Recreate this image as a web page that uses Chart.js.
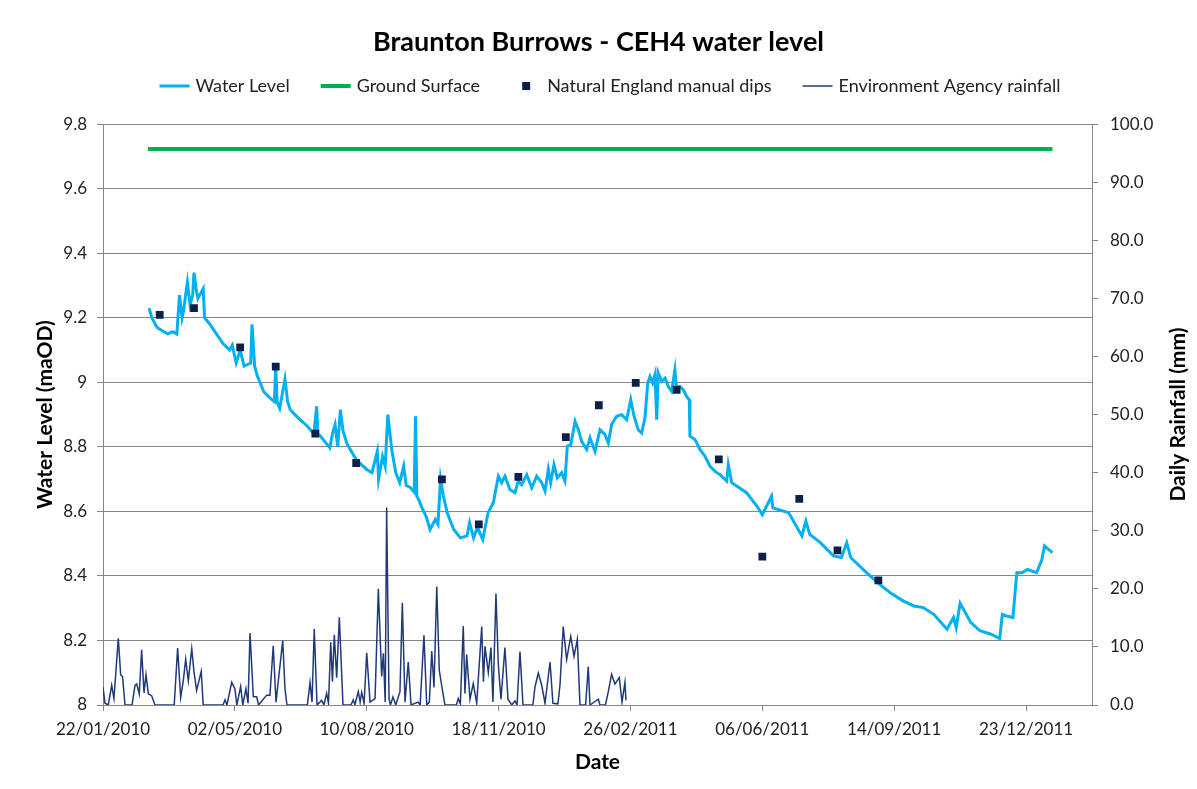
<!DOCTYPE html>
<html>
<head>
<meta charset="utf-8">
<script src="https://cdn.jsdelivr.net/npm/chart.js@4.4.1/dist/chart.umd.min.js"></script>
<style>
html, body { margin: 0; padding: 0; background: #fff; }
#wrap { width: 1197px; height: 789px; position: relative; }
</style>
</head>
<body>
<div id="wrap"><canvas id="chart"></canvas></div>
<script>
// x values are days since 22/01/2010
const xTickLabels = ['22/01/2010', '02/05/2010', '10/08/2010', '18/11/2010', '26/02/2011', '06/06/2011', '14/09/2011', '23/12/2011'];

const levelDays = [35, 37, 41, 45, 49, 53, 56, 58, 60, 61, 64, 66, 68, 69, 71, 72, 76, 77, 81, 86, 91, 96, 98, 101, 104, 107, 112, 113, 115, 117, 122, 127, 130, 131, 132, 134, 138, 140, 142, 148, 155, 160, 162, 163, 165, 172, 174, 176, 178, 180, 182, 185, 192, 200, 204, 208, 209, 212, 214, 216, 219, 222, 225, 228, 230, 233, 236, 237, 238, 239, 242, 245, 248, 252, 254, 256, 258, 261, 266, 271, 276, 278, 281, 284, 288, 292, 296,
    299.8, 302.3, 304.8, 308.6, 312.4, 314.9, 317.5, 321.3, 325.1, 328.9, 332.7, 335.2, 337.7, 339.5, 342, 344.5, 347.8, 350.3, 352.1, 354.7, 358, 360.5, 363, 366.8, 369.3, 373.1, 376.9, 380.7, 383.2, 385.7, 389.5, 393.3, 397.1, 400.2, 402.7, 405.9, 408.5, 411, 413.1, 414.8, 416.8, 418.6, 419.9, 421.1, 423.7, 426.2, 428.7, 431.2, 433.7, 435, 437.5, 440, 442.6, 444.6, 445.1, 448.9, 452.7, 456.5, 460.3, 464.1, 467.9, 473, 474.2, 476.8,
    488, 496, 500, 507, 508, 520, 530, 533, 536, 544, 554, 560, 564, 567, 579, 589, 597, 607, 615, 622, 630, 640, 645, 647, 650, 658, 665, 673, 680, 682, 685, 690, 693, 697, 701, 708, 712, 714, 717, 720];
const levelValues = [9.23, 9.20, 9.17, 9.16, 9.15, 9.157, 9.15, 9.27, 9.20, 9.22, 9.31, 9.24, 9.27, 9.34, 9.28, 9.26, 9.29, 9.20, 9.18, 9.15, 9.12, 9.10, 9.115, 9.06, 9.10, 9.05, 9.06, 9.18, 9.05, 9.02, 8.97, 8.95, 8.94, 9.05, 8.94, 8.92, 9.01, 8.94, 8.915, 8.89, 8.864, 8.84, 8.926, 8.84, 8.833, 8.797, 8.84, 8.869, 8.80, 8.915, 8.85, 8.81, 8.76, 8.73, 8.72, 8.786, 8.70, 8.77, 8.74, 8.90, 8.79, 8.72, 8.689, 8.74, 8.68, 8.674, 8.66, 8.895, 8.647, 8.64, 8.61, 8.585, 8.544, 8.575, 8.56, 8.70, 8.65, 8.596, 8.544, 8.518, 8.524, 8.565, 8.518, 8.55, 8.513, 8.596, 8.627,
    8.709, 8.689, 8.709, 8.668, 8.658, 8.694, 8.683, 8.714, 8.673, 8.709, 8.689, 8.663, 8.730, 8.689, 8.745, 8.704, 8.72, 8.694, 8.802, 8.807, 8.879, 8.853, 8.817, 8.792, 8.828, 8.786, 8.853, 8.838, 8.812, 8.869, 8.895, 8.90, 8.884, 8.946, 8.895, 8.853, 8.843, 8.89, 8.998, 9.018, 8.998, 9.024, 8.884, 9.029, 9.003, 9.013, 8.987, 8.972, 9.039, 8.977, 8.987, 8.977, 8.956, 8.946, 8.833, 8.823, 8.792, 8.771, 8.74, 8.724, 8.714, 8.694, 8.745, 8.689,
    8.658, 8.616, 8.59, 8.647, 8.611, 8.596, 8.524, 8.57, 8.529, 8.503, 8.462, 8.457, 8.503, 8.457, 8.41, 8.374, 8.348, 8.322, 8.307, 8.302, 8.281, 8.235, 8.271, 8.24, 8.315, 8.256, 8.23, 8.22, 8.206, 8.281, 8.276, 8.271, 8.41, 8.41, 8.42, 8.41, 8.451, 8.493, 8.482, 8.472];

const groundDays = [34, 720];
const groundValues = [9.723, 9.723];

const dipDays = [43, 69, 104, 131, 161, 192, 257, 285, 315, 351, 376, 404, 435, 467, 500, 528, 557, 588];
const dipValues = [9.209, 9.23, 9.108, 9.049, 8.841, 8.75, 8.699, 8.56, 8.707, 8.83, 8.929, 8.998, 8.977, 8.761, 8.46, 8.639, 8.479, 8.386];

const rainDays = [0, 1.5, 4, 6.6, 8.3, 11.6, 13.4, 14.8, 16.7, 22, 24.3, 25.6, 27.5, 29.3, 31.1, 32.6, 34.4, 36.9, 39.4, 54, 56.6, 58.9, 60.9, 62.7, 64.7, 67.3, 69, 71, 74.5, 76, 91, 92.5, 94, 97.6, 100, 101.5, 104.4, 106, 108.4, 110, 111.5, 114, 116.5, 118, 124.1, 126.6, 129.1, 131.2, 136.3, 138, 139.5, 155, 157, 158.5, 160.2, 162.3, 165.8, 167.5, 169.6, 171, 172.7, 174, 175.4, 177.2, 179.2, 182, 188, 189.8, 191, 193.6, 195, 196.2, 198, 200, 202.5, 206.3, 208.8, 211.3, 212.6, 214, 215.1, 216.9, 218, 219.9, 222, 225.2, 227, 229, 231.5, 233.6, 238.9, 240.5, 243.4, 245.5, 247.5, 249.3, 251, 253.1, 255, 256.8, 259.3, 268, 269.4, 271, 273.2, 274.5, 275.8, 278.3, 280.8, 283.4, 287.2, 288.5, 289.7, 292.2, 294.2, 295.7, 298, 299.8, 301.8, 304.8, 307.1, 310, 312.4, 314, 316.2, 318.5, 326, 327.6, 330.1, 332.7, 335.2, 339, 341.2, 345, 346.6, 349, 351.6, 354.7, 357.2, 359.7, 361.7, 366, 368, 369.3, 375.6, 376.9, 381, 383.2, 385.7, 388.2, 391.5, 393.6, 395.8, 396.6];
const rainMm = [3.1, 0.3, 0, 3.4, 1.1, 11.5, 5.2, 4.9, 0, 0, 3.4, 3.6, 1.9, 9.5, 2.1, 5.2, 1.9, 1.6, 0, 0, 9.8, 1.3, 4.2, 7.9, 4.2, 9.7, 5.7, 2.5, 5.8, 0, 0, 0.9, 0, 3.9, 2.8, 0, 3.2, 0, 2.8, 0.3, 12.4, 1.4, 1.4, 0, 1.7, 1.7, 10.2, 0.5, 11.1, 2.8, 0, 0, 3.9, 0.5, 13.1, 0, 0.8, 0, 2.0, 0.3, 10.8, 4, 12.1, 4.7, 15.1, 0, 0, 0.9, 0, 2.3, 0.5, 2.2, 0.3, 9.0, 0.5, 1.1, 20.0, 4.9, 8.9, 0.5, 34.0, 1.1, 0, 1.4, 0, 2.3, 17.6, 0.5, 7.4, 0, 0.5, 0, 12.0, 0, 0.5, 9.3, 3, 20.4, 6, 3.4, 0, 0, 1.1, 0.2, 13.6, 2, 8.7, 1, 3.7, 0.3, 13.5, 4, 10.1, 5.6, 9.9, 0.5, 19.2, 6.9, 1, 9.9, 1, 0, 0.7, 0, 9.2, 0, 0, 3.1, 5.5, 3.4, 0.3, 7.4, 0.3, 0.2, 3.6, 13.5, 7.8, 11.8, 8.4, 11.3, 0, 0, 6.6, 0, 1.0, 0, 0, 2.3, 5.3, 3.6, 4.7, 0.5, 3.9, 0.8];

const FONT = 'Lato, "Liberation Sans", sans-serif';
const GRID = '#868686';

function points(xs, ys) {
    return xs.map((x, i) => ({ x: x, y: ys[i] }));
}

// legend samples: blank space on the left keeps the items apart
function legendIcon(type, color, width) {
    const c = document.createElement('canvas');
    c.width = 58;
    c.height = 12;
    const g = c.getContext('2d');
    if (type === 'line') {
        g.strokeStyle = color;
        g.lineWidth = width;
        g.beginPath();
        g.moveTo(27, 6);
        g.lineTo(57, 6);
        g.stroke();
    } else {
        g.fillStyle = color;
        g.fillRect(38, 2, 8, 8);
    }
    return c;
}

const legendIcons = [
    legendIcon('line', '#00b0f0', 3),
    legendIcon('line', '#00b050', 4),
    legendIcon('rect', '#0f1f4b'),
    legendIcon('line', '#203a78', 1.5)
];

// secondary axis title reads bottom to top, like the primary one
const rightTitle = {
    id: 'rightTitle',
    afterDraw(chart) {
        const { ctx, chartArea } = chart;
        const scale = chart.scales.y1;
        ctx.save();
        ctx.translate(scale.right - 19, (chartArea.top + chartArea.bottom) / 2);
        ctx.rotate(-Math.PI / 2);
        ctx.font = 'bold 21px ' + FONT;
        ctx.fillStyle = '#000';
        ctx.textAlign = 'center';
        ctx.textBaseline = 'middle';
        ctx.fillText('Daily Rainfall (mm)', 0, 0);
        ctx.restore();
    }
};

Chart.defaults.font.family = FONT;
Chart.defaults.color = '#222';

new Chart(document.getElementById('chart').getContext('2d'), {
    type: 'line',
    data: {
        datasets: [
            {
                label: 'Water Level',
                data: points(levelDays, levelValues),
                borderColor: '#00b0f0',
                borderWidth: 3,
                pointRadius: 0,
                yAxisID: 'y',
                order: 1
            },
            {
                label: 'Ground Surface',
                data: points(groundDays, groundValues),
                borderColor: '#00b050',
                borderWidth: 4,
                pointRadius: 0,
                yAxisID: 'y',
                order: 2
            },
            {
                label: 'Natural England manual dips',
                data: points(dipDays, dipValues),
                showLine: false,
                pointStyle: 'rect',
                pointRadius: 5.5,
                pointBackgroundColor: '#0f1f4b',
                pointBorderColor: '#0f1f4b',
                pointBorderWidth: 0,
                yAxisID: 'y',
                order: 0
            },
            {
                label: 'Environment Agency rainfall',
                data: points(rainDays, rainMm),
                borderColor: '#203a78',
                borderWidth: 1.5,
                pointRadius: 0,
                yAxisID: 'y1',
                order: 3
            }
        ]
    },
    options: {
        responsive: true,
        maintainAspectRatio: false,
        animation: false,
        layout: { padding: 0 },
        plugins: {
            title: {
                display: true,
                text: 'Braunton Burrows - CEH4 water level',
                color: '#000',
                font: { size: 27, weight: 'bold' },
                padding: { top: 26, bottom: 10.6 }
            },
            // empty spacer between the legend and the plot
            subtitle: {
                display: true,
                text: ' ',
                weight: 500,
                font: { size: 1 },
                padding: { top: 0, bottom: 18 }
            },
            legend: {
                position: 'top',
                weight: 1000,
                labels: {
                    usePointStyle: true,
                    pointStyleWidth: 50,
                    padding: 8,
                    font: { size: 18 },
                    color: '#222',
                    generateLabels: chart => chart.data.datasets.map((ds, i) => ({
                        text: ds.label,
                        pointStyle: legendIcons[i],
                        datasetIndex: i,
                        hidden: false,
                        lineWidth: 0,
                        strokeStyle: 'transparent',
                        fillStyle: 'transparent',
                        fontColor: '#222'
                    }))
                }
            },
            tooltip: { enabled: false }
        },
        scales: {
            x: {
                type: 'linear',
                min: 0,
                max: 750,
                afterFit: s => { s.height = 84; },
                ticks: {
                    stepSize: 100,
                    includeBounds: false,
                    autoSkip: false,
                    maxRotation: 0,
                    padding: 8,
                    font: { size: 17 },
                    callback: v => xTickLabels[Math.round(v / 100)] || ''
                },
                grid: { drawOnChartArea: false, tickLength: 6, color: GRID },
                border: { color: GRID },
                title: {
                    display: true,
                    text: 'Date',
                    color: '#000',
                    font: { size: 21, weight: 'bold' },
                    padding: { top: 0, bottom: 14.4 }
                }
            },
            y: {
                position: 'left',
                min: 8,
                max: 9.8,
                afterFit: s => { s.width = 103; },
                ticks: {
                    stepSize: 0.2,
                    padding: 10,
                    font: { size: 17 },
                    callback: v => String(parseFloat(v.toFixed(1)))
                },
                grid: { color: GRID, tickLength: 6 },
                border: { color: GRID },
                title: {
                    display: true,
                    text: 'Water Level (maOD)',
                    color: '#000',
                    font: { size: 21, weight: 'bold' },
                    padding: { top: 32.4, bottom: 0 }
                }
            },
            y1: {
                position: 'right',
                min: 0,
                max: 100,
                afterFit: s => { s.width = 105; },
                ticks: {
                    stepSize: 10,
                    padding: 12,
                    font: { size: 17 },
                    callback: v => v.toFixed(1)
                },
                grid: { drawOnChartArea: false, tickLength: 6, color: GRID },
                border: { color: GRID }
            }
        }
    },
    plugins: [rightTitle]
});
</script>
</body>
</html>
